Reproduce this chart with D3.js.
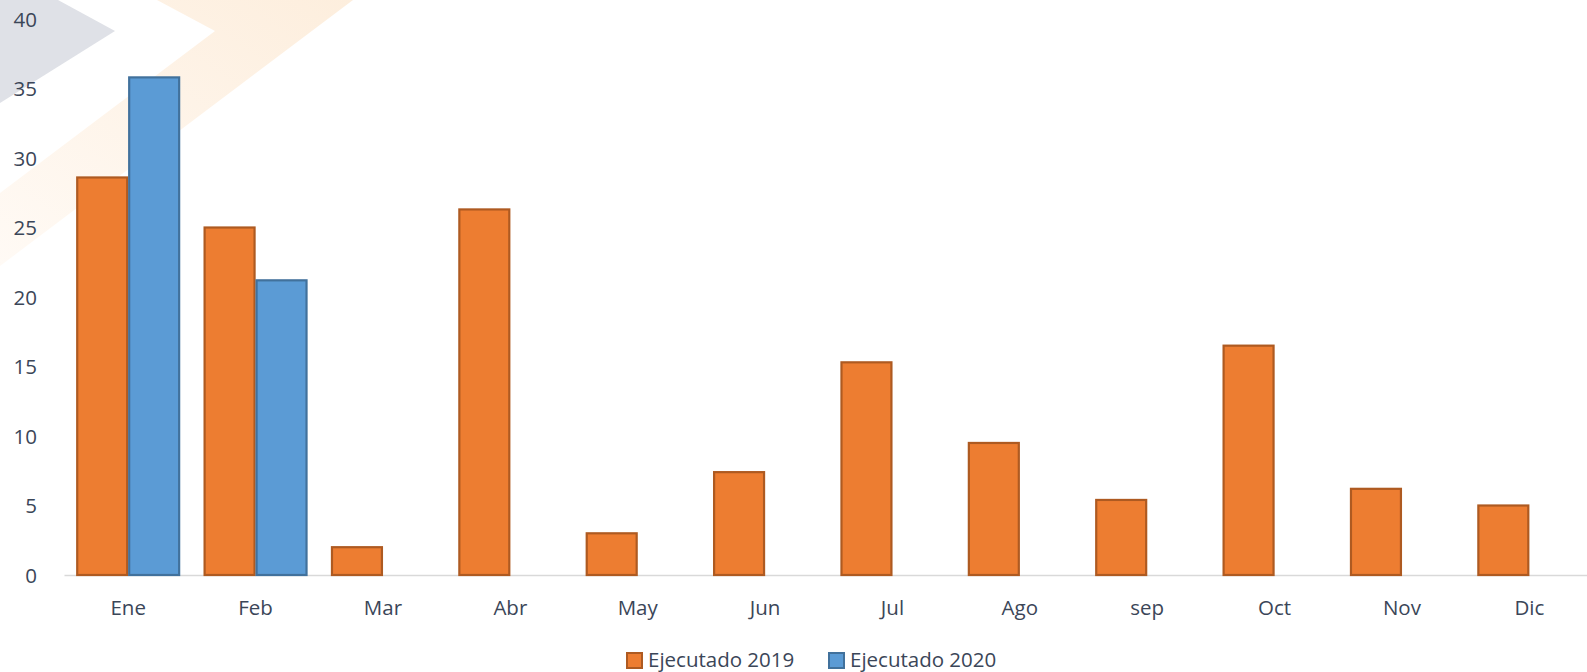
<!DOCTYPE html>
<html><head><meta charset="utf-8">
<script src="https://cdn.jsdelivr.net/npm/d3@7"></script>
<style>
html,body{margin:0;padding:0;background:#fff;}
svg{display:block;}
text{font-family:"Open Sans",sans-serif;fill:#3b4658;}
</style></head>
<body>
<script>
const categories = ["Ene","Feb","Mar","Abr","May","Jun","Jul","Ago","sep","Oct","Nov","Dic"];
const series2019 = [28.6,25.0,2.0,26.3,3.0,7.4,15.3,9.5,5.4,16.5,6.2,5.0];
const series2020 = [35.8,21.2,null,null,null,null,null,null,null,null,null,null];
const seriesNames = ["Ejecutado 2019","Ejecutado 2020"];
const yTicks = [0,5,10,15,20,25,30,35,40];

const W = 1587, H = 672;
const svg = d3.select("body").append("svg").attr("width", W).attr("height", H);

// background decoration
const defs = svg.append("defs");
const g1 = defs.append("linearGradient").attr("id","og").attr("x1","1").attr("y1","0").attr("x2","0").attr("y2","1");
g1.append("stop").attr("offset","0").attr("stop-color","#fdeedd");
g1.append("stop").attr("offset","1").attr("stop-color","#fffaf5");
const line = d3.line();
svg.append("path").attr("d", line([[157,0],[353,0],[0,266],[0,193],[215,31]]) + "Z").attr("fill","url(#og)");
svg.append("path").attr("d", line([[0,0],[58,0],[115,31],[0,103]]) + "Z").attr("fill","#dfe1e7");

const x0 = 64.5, x1 = 1593;
const yBase = 575, yTop = 19;
const x = d3.scaleBand().domain(categories).range([x0, x1]).paddingInner(0.184).paddingOuter(0.092);
const xs = d3.scaleBand().domain(seriesNames).range([0, x.bandwidth()]);
const y = d3.scaleLinear().domain([0, 40]).range([yBase, yTop]);

// axis line
svg.append("line").attr("x1", x0).attr("x2", W).attr("y1", yBase+0.5).attr("y2", yBase+0.5)
  .attr("stroke","#d9d9d9").attr("stroke-width",1.5);

const fills = ["#ED7D31","#5B9BD5"], strokes = ["#AE5A21","#41719C"];
[series2019, series2020].forEach((s, si) => {
  svg.append("g").selectAll("rect").data(categories.map((c,i)=>({c, v:s[i]})).filter(d=>d.v!=null))
    .join("rect")
    .attr("x", d => x(d.c) + xs(seriesNames[si]) + 1)
    .attr("width", xs.bandwidth() - 2)
    .attr("y", d => y(d.v))
    .attr("height", d => yBase - y(d.v))
    .attr("fill", fills[si]).attr("stroke", strokes[si]).attr("stroke-width", 2.2);
});

// y axis labels
const yAxis = d3.axisLeft(y).tickValues(yTicks).tickSize(0).tickPadding(0);
const ya = svg.append("g").attr("transform","translate(37,0)").call(yAxis);
ya.select(".domain").remove();
ya.selectAll("text").style("font-size","20.5px").attr("fill","#3b4658").attr("dy","0.35em");

// x axis labels
const xAxis = d3.axisBottom(x).tickSize(0).tickPadding(0);
const xa = svg.append("g").attr("transform",`translate(0,${yBase})`).call(xAxis);
xa.select(".domain").remove();
xa.selectAll("text").style("font-size","20.5px").attr("fill","#3b4658").attr("y", 33).attr("dy","0.35em");

// legend
const leg = [{name:seriesNames[0], x:627}, {name:seriesNames[1], x:829}];
leg.forEach((l,i)=>{
  svg.append("rect").attr("x", l.x).attr("y", 653).attr("width", 15).attr("height", 15)
    .attr("fill", fills[i]).attr("stroke", strokes[i]).attr("stroke-width", 2);
  svg.append("text").attr("x", l.x+21).attr("y", 660).attr("dy","0.35em").style("font-size","20.5px").text(l.name);
});
</script>
</body></html>
